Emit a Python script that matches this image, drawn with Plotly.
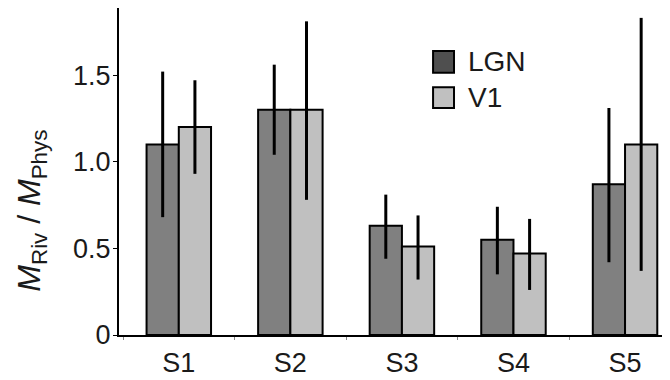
import plotly.graph_objects as go

subjects = ["S1", "S2", "S3", "S4", "S5"]
lgn_mean = [1.10, 1.30, 0.63, 0.55, 0.87]
lgn_upper = [1.52, 1.56, 0.81, 0.74, 1.31]
lgn_lower = [0.68, 1.04, 0.44, 0.35, 0.42]
v1_mean = [1.20, 1.30, 0.51, 0.47, 1.10]
v1_upper = [1.47, 1.81, 0.69, 0.67, 1.83]
v1_lower = [0.93, 0.78, 0.32, 0.26, 0.37]
y_ticks = [0, 0.5, 1.0, 1.5]
y_tick_labels = ["0", "0.5", "1.0", "1.5"]
series_names = ["LGN", "V1"]

FONT = "Liberation Sans, Arial, Helvetica, sans-serif"
TEXT_COLOR = "#1a1a1a"
LGN_COLOR = "#808080"
V1_COLOR = "#c0c0c0"
LGN_LEGEND_COLOR = "#4f4f4f"


def err(mean, upper, lower):
    return dict(
        type="data",
        symmetric=False,
        array=[u - m for u, m in zip(upper, mean)],
        arrayminus=[m - l for m, l in zip(mean, lower)],
        color="black",
        thickness=3,
        width=0,
    )


fig = go.Figure()
fig.add_trace(go.Bar(
    x=subjects, y=lgn_mean, name=series_names[0],
    marker=dict(color=LGN_COLOR, line=dict(color="black", width=2)),
    error_y=err(lgn_mean, lgn_upper, lgn_lower),
    showlegend=False,
))
fig.add_trace(go.Bar(
    x=subjects, y=v1_mean, name=series_names[1],
    marker=dict(color=V1_COLOR, line=dict(color="black", width=2)),
    error_y=err(v1_mean, v1_upper, v1_lower),
    showlegend=False,
))

# legend drawn manually (larger swatches as in the reference)
legend_items = [(series_names[0], LGN_LEGEND_COLOR, 0.8685, 0.802),
                (series_names[1], V1_COLOR, 0.758, 0.694)]
for name, col, ytop, ybot in legend_items:
    fig.add_shape(type="rect", xref="paper", yref="paper",
                  x0=0.570, x1=0.608, y0=ybot, y1=ytop,
                  fillcolor=col, line=dict(color="black", width=2))
    fig.add_annotation(xref="paper", yref="paper", x=0.630, y=(ytop + ybot) / 2,
                       xanchor="left", yanchor="middle", showarrow=False,
                       text=name, font=dict(family=FONT, size=28, color=TEXT_COLOR))

# y-axis title
fig.add_annotation(xref="paper", yref="paper", x=-0.158, y=0.38,
                   xanchor="center", yanchor="middle", showarrow=False,
                   textangle=-90,
                   text="<i>M</i><sub>Riv</sub> / <i>M</i><sub>Phys</sub>",
                   font=dict(family=FONT, size=32, color=TEXT_COLOR))

fig.update_layout(
    width=662, height=372,
    margin=dict(l=111, r=0, t=0, b=45),
    paper_bgcolor="white", plot_bgcolor="white",
    barmode="group", bargap=0.422, bargroupgap=0,
    font=dict(family=FONT, size=27, color=TEXT_COLOR),
)
fig.update_xaxes(
    type="category", range=[-0.536, 4.403],
    showline=True, linecolor="black", linewidth=2,
    showgrid=False, zeroline=False,
    ticks="outside", tickson="boundaries", ticklen=3, tickwidth=1, tickcolor="#888888",
    ticklabelstandoff=3,
    tickfont=dict(family=FONT, size=27, color=TEXT_COLOR),
)
fig.update_yaxes(
    range=[0, 1.887],
    showline=True, linecolor="black", linewidth=2,
    showgrid=False, zeroline=False,
    ticks="outside", ticklen=4, tickwidth=1, tickcolor="black",
    ticklabelstandoff=-3,
    tickvals=y_ticks, ticktext=y_tick_labels,
    tickfont=dict(family=FONT, size=27, color=TEXT_COLOR),
)

fig.write_html("out.html")
